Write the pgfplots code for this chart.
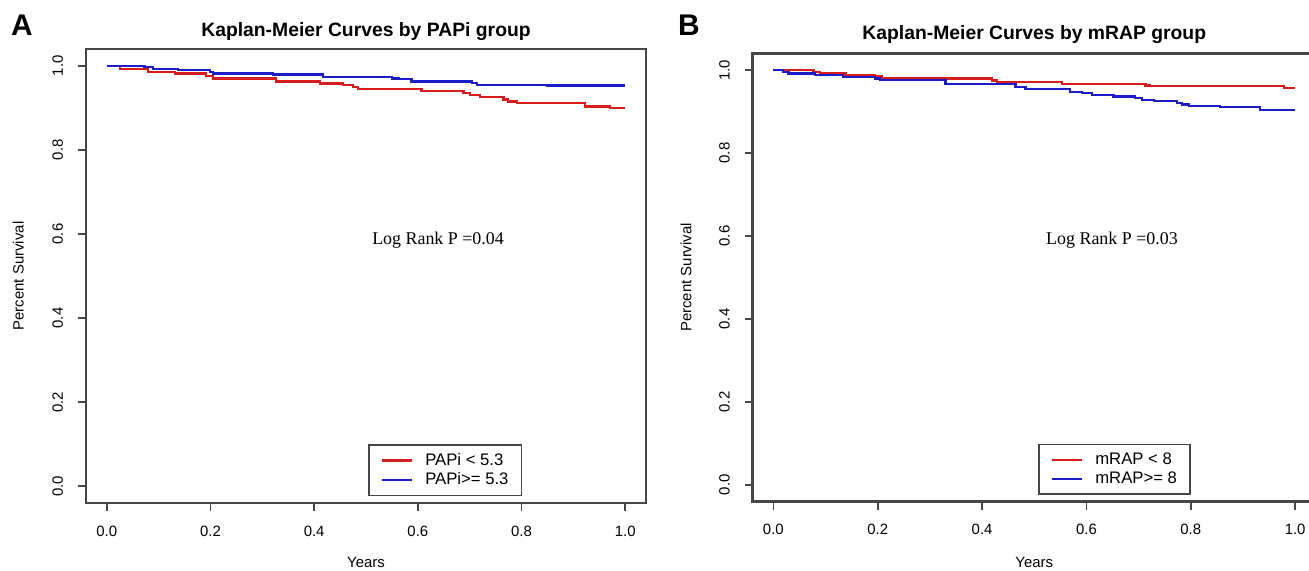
\documentclass[border=0pt]{standalone}
\usepackage{fontspec}
\setmainfont{Liberation Sans}
\newfontfamily\timesfont{Liberation Serif}
\usepackage{pgfplots}
\pgfplotsset{compat=1.18}
\definecolor{kmred}{RGB}{214,28,28}
\definecolor{kmblue}{RGB}{28,28,196}
\definecolor{boxgray}{RGB}{70,70,70}
\pgfplotsset{km/.style={
  scale only axis, anchor=south west,
  xmin=-0.04, xmax=1.04, ymin=-0.04, ymax=1.04,
  axis line style={boxgray, line width=1pt},
  tick style={boxgray, line width=0.9pt},
  tick align=outside, major tick length=0.16cm,
  xtick pos=bottom, ytick pos=left,
  xtick={0,0.2,0.4,0.6,0.8,1}, xticklabels={0.0,0.2,0.4,0.6,0.8,1.0},
  ytick={0,0.2,0.4,0.6,0.8,1}, yticklabels={0.0,0.2,0.4,0.6,0.8,1.0},
  tick label style={font=\fontsize{8.5}{10}\selectfont},
  xticklabel style={anchor=base, yshift=-0.50cm},
  yticklabel style={xshift=-0.30cm, rotate=90, anchor=base},
  label style={font=\fontsize{8.5}{10}\selectfont},
  title style={font=\bfseries\fontsize{11}{13}\selectfont, anchor=base, at={(axis description cs:0.5,1)}, yshift=0.04cm},
  every axis plot/.append style={line width=1.3pt, const plot, mark=none},
  legend style={anchor=center, draw=boxgray, line width=0.9pt, font=\fontsize{9.5}{11}\selectfont,
    inner xsep=0.24cm, inner ysep=4pt, row sep=1.5pt, column sep=0.22cm, nodes={inner sep=0.6pt}, cells={anchor=west}},
  legend image code/.code={\draw[#1, line width=1.2pt] (0cm,0cm) -- (0.6cm,0cm);},
  xlabel={Years}, ylabel={Percent Survival},
}}

\begin{document}
\begin{tikzpicture}
\path[use as bounding box] (0,0) rectangle (26.18,11.4);
\node[font=\bfseries\fontsize{17}{20}\selectfont] at (0.44,10.9) {A};
\node[font=\bfseries\fontsize{17}{20}\selectfont] at (13.78,10.9) {B};

% panel A
\begin{axis}[km, at={(1.72cm,1.34cm)}, width=11.2cm, height=9.08cm,
  title={Kaplan-Meier Curves by PAPi group},
  xlabel style={at={(axis description cs:0.5,-0.132)}, anchor=center},
  ylabel style={at={(axis description cs:-0.121,0.5)}, anchor=center},
  legend style={at={(axis cs:0.653,0.038)}}]
\addplot[kmred] coordinates {(0,1.0) (0.025,0.992) (0.079,0.986) (0.131,0.982) (0.192,0.976) (0.205,0.970) (0.326,0.963) (0.411,0.958) (0.456,0.954) (0.475,0.950) (0.485,0.945) (0.607,0.940) (0.688,0.935) (0.701,0.931) (0.72,0.925) (0.765,0.920) (0.774,0.915) (0.791,0.911) (0.923,0.903) (0.971,0.899) (1.0,0.899)};
\addplot[kmblue] coordinates {(0,1.0) (0.073,0.997) (0.089,0.993) (0.137,0.990) (0.199,0.986) (0.205,0.982) (0.321,0.979) (0.417,0.973) (0.55,0.970) (0.563,0.968) (0.588,0.963) (0.704,0.959) (0.714,0.955) (0.849,0.953) (1.0,0.953)};
\legend{PAPi < 5.3, PAPi>= 5.3}
\node[font=\timesfont\fontsize{10.2}{12}\selectfont] at (axis cs:0.639,0.586) {Log Rank P =0.04};
\end{axis}

% panel B (its right edge is cut by the page)
\begin{axis}[km, at={(15.05cm,1.37cm)}, width=11.27cm, height=8.96cm,
  axis line style={line width=1.15pt},
  title={Kaplan-Meier Curves by mRAP group}, title style={yshift=0.02cm},
  xlabel style={at={(axis description cs:0.5,-0.137)}, anchor=center},
  ylabel style={at={(axis description cs:-0.118,0.5)}, anchor=center},
  legend style={at={(axis cs:0.654,0.038)}}]
\addplot[kmred] coordinates {(0,1.0) (0.077,0.996) (0.09,0.993) (0.138,0.989) (0.195,0.985) (0.208,0.980) (0.419,0.975) (0.428,0.971) (0.553,0.966) (0.713,0.963) (0.722,0.961) (0.978,0.956) (1.0,0.956)};
\addplot[kmblue] coordinates {(0,1.0) (0.019,0.996) (0.029,0.992) (0.08,0.988) (0.134,0.984) (0.195,0.980) (0.205,0.976) (0.33,0.966) (0.464,0.960) (0.483,0.954) (0.569,0.948) (0.591,0.944) (0.611,0.940) (0.652,0.936) (0.693,0.932) (0.706,0.928) (0.729,0.925) (0.773,0.921) (0.783,0.917) (0.796,0.914) (0.856,0.911) (0.933,0.904) (1.0,0.904)};
\legend{mRAP < 8, mRAP>= 8}
\node[font=\timesfont\fontsize{10.2}{12}\selectfont] at (axis cs:0.649,0.59) {Log Rank P =0.03};
\end{axis}
\end{tikzpicture}
\end{document}
